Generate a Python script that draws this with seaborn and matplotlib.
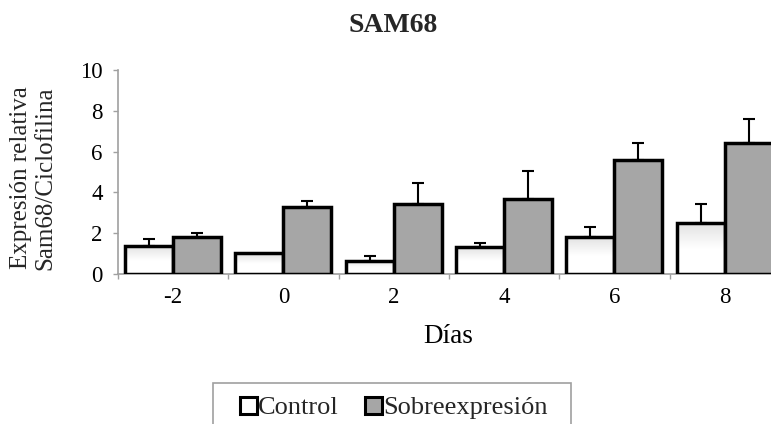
import numpy as np
import pandas as pd
import matplotlib
matplotlib.use("Agg")
import matplotlib.pyplot as plt
import seaborn as sns
from matplotlib.patches import Patch, Rectangle
from matplotlib.colors import LinearSegmentedColormap

# ---- data ----
dias = ["-2", "0", "2", "4", "6", "8"]
grupos = ["Control", "Sobreexpresión"]
control = [1.37, 1.01, 0.64, 1.31, 1.81, 2.48]
control_err = [0.35, 0.0, 0.24, 0.19, 0.48, 0.95]
sobre = [1.81, 3.30, 3.43, 3.69, 5.60, 6.40]
sobre_err = [0.22, 0.26, 1.01, 1.36, 0.80, 1.21]
yticks = [0, 2, 4, 6, 8, 10]

sns.set_theme(style="white")
plt.rcParams["font.family"] = ["Liberation Serif", "DejaVu Serif"]

df = pd.DataFrame({
    "Días": dias * 2,
    "Grupo": [grupos[0]] * len(dias) + [grupos[1]] * len(dias),
    "Valor": control + sobre,
})

GREY = "#a6a6a6"
AXC = "#a0a0a0"

fig = plt.figure(figsize=(7.71, 4.24), dpi=100)
ax = fig.add_axes([0.1530, 0.3538, 0.8586, 0.4811])

sns.barplot(data=df, x="Días", y="Valor", hue="Grupo", order=dias,
            hue_order=grupos,
            palette={"Control": "white", "Sobreexpresión": GREY},
            width=0.87, edgecolor="black", linewidth=2.5, errorbar=None,
            saturation=1, legend=False, ax=ax, zorder=3)

# gradient fill for control bars
cmap = LinearSegmentedColormap.from_list("g", ["#ffffff", "#ffffff", "#e2e2e2"])
grad = np.linspace(0, 1, 256).reshape(-1, 1)
for patch in ax.containers[0]:
    x0, w, h = patch.get_x(), patch.get_width(), patch.get_height()
    patch.set_facecolor("none")
    im = ax.imshow(grad, extent=[x0, x0 + w, 0, h], origin="lower",
                   cmap=cmap, aspect="auto", zorder=2.5, interpolation="bilinear")
    im.set_clip_path(patch)

# error bars (upper only)
for cont, errs in zip(ax.containers, [control_err, sobre_err]):
    for patch, e in zip(cont, errs):
        if e > 0:
            ax.errorbar(patch.get_x() + patch.get_width() / 2, patch.get_height(),
                        yerr=[[0], [e]], fmt="none", ecolor="black",
                        elinewidth=1.5, capsize=4.3, capthick=1.5, zorder=2)

ax.set_xlim(-0.5, len(dias) - 0.5)
ax.set_ylim(0, 10)
ax.set_yticks(yticks)
ax.set_yticklabels([str(v) for v in yticks])

for s in ["top", "right"]:
    ax.spines[s].set_visible(False)
for s in ["left", "bottom"]:
    ax.spines[s].set_color(AXC)
    ax.spines[s].set_linewidth(1.2)

ax.tick_params(axis="y", left=True, direction="out", length=3.6, width=1,
               color=AXC, pad=7.5, labelsize=16.5, labelcolor="black")
ax.tick_params(axis="x", which="major", bottom=False, length=0, pad=9.5,
               labelsize=16.5, labelcolor="black")
ax.set_xticks(np.arange(-0.5, len(dias), 1), minor=True)
ax.tick_params(axis="x", which="minor", bottom=True, direction="out",
               length=3.6, width=1, color=AXC)

ax.set_ylabel("")
ax.set_xlabel("Días", fontsize=19.5, va="baseline", color="black")
ax.xaxis.set_label_coords(0.4985, -0.338)

fig.text(33 / 771, 1 - 178 / 424, "Expresión relativa\nSam68/Ciclofilina",
         rotation=90, ha="center", va="center", fontsize=18,
         multialignment="center", linespacing=1.15)

fig.text(393 / 771, 1 - 32 / 424, "SAM68", ha="center", va="baseline",
         fontsize=20, fontweight="bold")

handles = [Patch(facecolor="white", edgecolor="black", linewidth=2.2),
           Patch(facecolor=GREY, edgecolor="black", linewidth=2.2)]
fig.legend(handles, grupos, loc="center left",
           bbox_to_anchor=(240 / 771, 1 - 408 / 424), ncol=2, frameon=False,
           fontsize=19, handlelength=0.64, handleheight=0.64,
           handletextpad=0.05, columnspacing=1.0, borderpad=0,
           borderaxespad=0)
fig.add_artist(Rectangle((213 / 771, -0.05), (571 - 213) / 771,
                         (1 - 383 / 424) + 0.05, transform=fig.transFigure,
                         fill=False, edgecolor=AXC, linewidth=1.2))

fig.savefig("out.png", dpi=100)
